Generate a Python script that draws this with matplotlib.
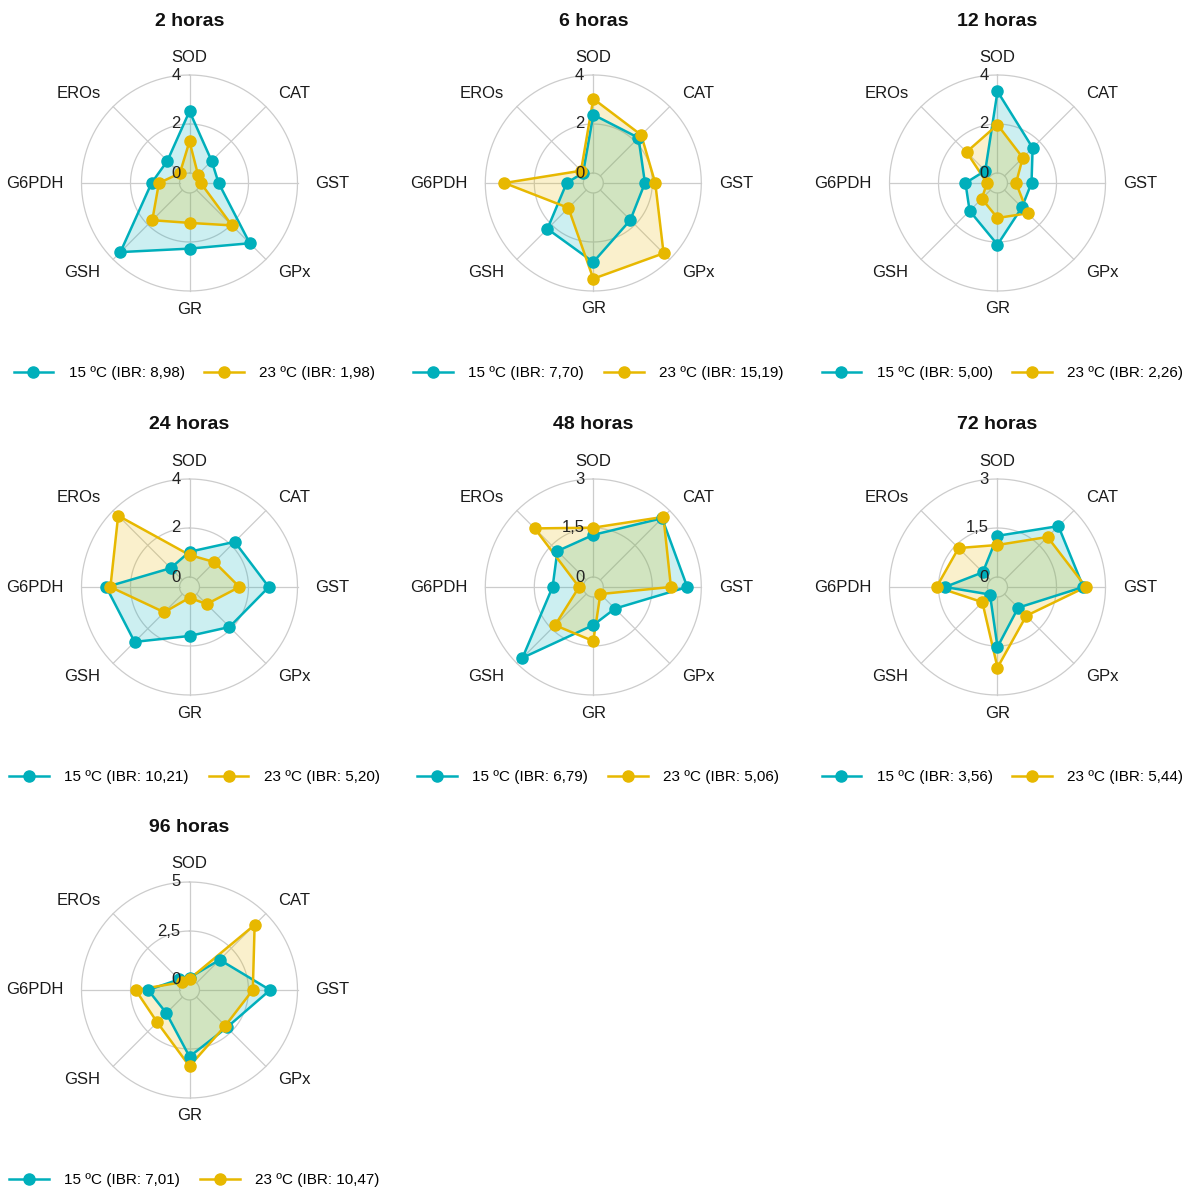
import numpy as np
import matplotlib
matplotlib.use("Agg")
import matplotlib.pyplot as plt
import matplotlib.transforms as mtransforms
from matplotlib.lines import Line2D

plt.rcParams['font.family'] = ['Liberation Sans', 'DejaVu Sans']

# Biomarkers, clockwise from the top
biomarkers = ["SOD", "CAT", "GST", "GPx", "GR", "GSH", "G6PDH", "EROs"]

# Exposure times (panel titles)
times = ["2 horas", "6 horas", "12 horas", "24 horas", "48 horas", "72 horas", "96 horas"]

# Standardised biomarker scores at 15 ºC
t15_2h = [2.52, 0.87, 0.78, 3.07, 2.27, 3.58, 1.14, 0.87]
t15_6h = [2.38, 2.20, 1.70, 1.73, 2.82, 2.24, 0.68, 0.18]
t15_12h = [3.33, 1.62, 0.98, 1.00, 2.11, 1.20, 0.90, 0.30]
t15_24h = [1.03, 2.20, 2.83, 1.90, 1.59, 2.76, 2.99, 0.68]
t15_48h = [1.29, 2.67, 2.57, 0.63, 0.86, 2.76, 0.94, 1.25]
t15_72h = [1.26, 2.33, 2.32, 0.59, 1.53, 0.02, 1.30, 0.33]
t15_96h = [0.12, 1.67, 3.60, 2.19, 2.89, 1.16, 1.60, 0.25]

# Standardised biomarker scores at 23 ºC
t23_2h = [1.29, 0.08, 0.05, 2.04, 1.22, 1.74, 0.84, 0.15]
t23_6h = [3.03, 2.36, 2.12, 3.65, 3.50, 1.03, 3.22, 0.30]
t23_12h = [1.97, 1.05, 0.35, 1.34, 1.02, 0.50, 0.02, 1.38]
t23_24h = [0.90, 1.03, 1.63, 0.58, 0.03, 1.05, 2.82, 3.71]
t23_48h = [1.51, 2.73, 2.07, 0.00, 1.35, 1.35, 0.13, 2.23]
t23_72h = [0.98, 1.86, 2.40, 0.94, 2.16, 0.35, 1.56, 1.38]
t23_96h = [0.05, 4.19, 2.72, 2.07, 3.38, 1.82, 2.24, 0.05]

# Integrated biomarker response per time and temperature
ibr_15 = ["8,98", "7,70", "5,00", "10,21", "6,79", "3,56", "7,01"]
ibr_23 = ["1,98", "15,19", "2,26", "5,20", "5,06", "5,44", "10,47"]

# Radial scale of each panel and its labels
scale_max = [4, 4, 4, 4, 3, 3, 5]
scale_labels = [["0", "2", "4"], ["0", "2", "4"], ["0", "2", "4"], ["0", "2", "4"],
                ["0", "1,5", "3"], ["0", "1,5", "3"], ["0", "2,5", "5"]]

series_15 = [t15_2h, t15_6h, t15_12h, t15_24h, t15_48h, t15_72h, t15_96h]
series_23 = [t23_2h, t23_6h, t23_12h, t23_24h, t23_48h, t23_72h, t23_96h]

C15 = "#00AFBB"
C23 = "#E7B800"
GRID = "#CCCCCC"

W, H = 1200, 1191
fig = plt.figure(figsize=(W / 100, H / 100), dpi=100)

col_cx = [189.5, 593.3, 997.5]
row_cy = [183.0, 587.0, 990.0]
R_PX = 108.0     # outer ring radius in pixels
INNER_PX = 10.0  # radius of the zero ring

n = len(biomarkers)
angles = np.arange(n) * 2 * np.pi / n
angles_closed = np.append(angles, angles[0])
ring = np.linspace(0, 2 * np.pi, 361)

for i, title in enumerate(times):
    cx = col_cx[i % 3]
    cy = row_cy[i // 3]
    ax = fig.add_axes([(cx - R_PX) / W, 1 - (cy + R_PX) / H, 2 * R_PX / W, 2 * R_PX / H],
                      projection="polar")
    ax.set_theta_zero_location("N")
    ax.set_theta_direction(-1)
    M = scale_max[i]
    ax.set_ylim(0, M)
    ax.set_rorigin(-M * INNER_PX / (R_PX - INNER_PX))
    ax.grid(False)
    ax.set_xticks([])
    ax.set_yticks([])
    ax.patch.set_visible(False)
    for sp in ax.spines.values():
        sp.set_visible(False)
        sp.set_linewidth(0)
        sp.set_edgecolor("none")
        sp.set_facecolor("none")

    # rings and spokes
    for r in (0, M / 2, M):
        ax.plot(ring, np.full_like(ring, r), color=GRID, lw=0.9, zorder=0, clip_on=False)
    for a in angles:
        ax.plot([a, a], [0, M], color=GRID, lw=0.9, zorder=0, clip_on=False)

    v15 = np.asarray(series_15[i], dtype=float)
    v23 = np.asarray(series_23[i], dtype=float)
    for v, c in ((v15, C15), (v23, C23)):
        vc = np.append(v, v[0])
        ax.fill(angles_closed, vc, color=c, alpha=0.2, lw=0, zorder=1, clip_on=False)
    for v, c in ((v15, C15), (v23, C23)):
        vc = np.append(v, v[0])
        ax.plot(angles_closed, vc, color=c, lw=1.8, zorder=2, clip_on=False)
    for v, c in ((v15, C15), (v23, C23)):
        ax.plot(angles, v, "o", color=c, ms=8, zorder=3, clip_on=False)

    # biomarker names around the rim
    d = 126.0 / (2 * R_PX)
    for a, name in zip(angles, biomarkers):
        s, co = np.sin(a), np.cos(a)
        if abs(s) < 1e-6:
            ha = "center"
        elif s > 0:
            ha = "left"
        else:
            ha = "right"
        ax.text(0.5 + d * s, 0.5 + d * co, name, transform=ax.transAxes,
                ha=ha, va="center", fontsize=12, color="#1a1a1a")

    # radial scale labels along the top spoke
    tick_tr = mtransforms.offset_copy(ax.transData, fig=fig, x=-9, y=0, units="dots")
    for r, lab in zip((0, M / 2, M), scale_labels[i]):
        ax.text(0, r, lab, transform=tick_tr, ha="right", va="center",
                fontsize=12, color="#222222", zorder=4)

    fig.text(cx / W, 1 - (cy - 162) / H, title, ha="center", va="center",
             fontsize=14, fontweight="bold", color="#111111")

    handles = [Line2D([], [], color=C15, lw=1.8, marker="o", ms=8),
               Line2D([], [], color=C23, lw=1.8, marker="o", ms=8)]
    labels = [f"15 ºC (IBR: {ibr_15[i]})", f"23 ºC (IBR: {ibr_23[i]})"]
    ax.legend(handles, labels, loc="center", ncol=2, frameon=False,
              bbox_to_anchor=((cx + 5) / W, 1 - (cy + 190) / H),
              bbox_transform=fig.transFigure, fontsize=11,
              handlelength=2.6, handletextpad=1.0, columnspacing=1.3)

fig.savefig("out.png", dpi=100, facecolor="white")
